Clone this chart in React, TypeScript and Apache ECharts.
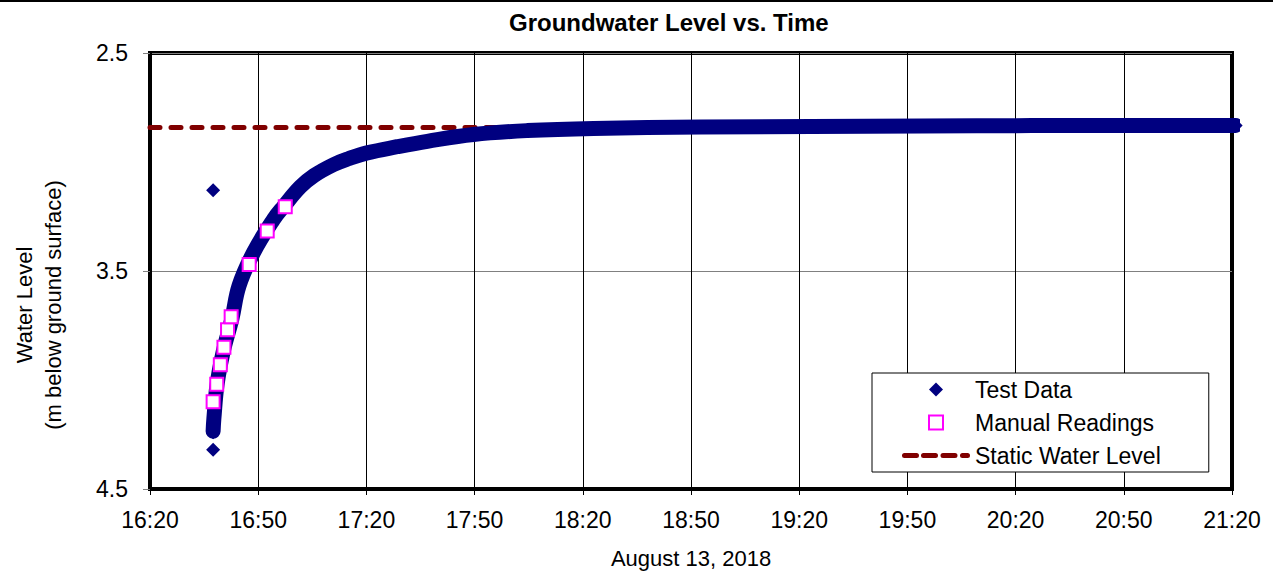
import React, { useEffect, useRef } from "react";
import * as echarts from "echarts";

// ---- data ----
const AXIS_START = "16:20:00";
const xTickLabels = ["16:20", "16:50", "17:20", "17:50", "18:20", "18:50", "19:20", "19:50", "20:20", "20:50", "21:20"];
const Y_MIN = 2.5;
const Y_MAX = 4.5;

// Test Data (dense logger record, traced along its centre)
const testTimes = [
  "16:37:30", "16:37:42", "16:38:36", "16:40:18", "16:42:42", "16:44:42", "16:48:42",
  "16:54:15", "16:57:00", "17:01:42", "17:05:30", "17:10:54", "17:15:00", "17:20:12", "17:28:30", "17:36:54",
  "17:49:42", "18:04:36", "18:23:00", "18:52:48", "19:53:54", "20:24:24", "20:55:00", "21:21:00",
];
const testLevels = [
  4.235, 4.18, 4.02, 3.87, 3.72, 3.567, 3.415,
  3.263, 3.205, 3.114, 3.062, 3.012, 2.985, 2.958, 2.930, 2.905,
  2.874, 2.856, 2.846, 2.840, 2.835, 2.833, 2.833, 2.832,
];
// Individual Test Data points standing apart from the band
const testPointTimes = ["16:37:30", "16:37:30", "16:37:30", "21:21:00"];
const testPointLevels = [4.32, 3.13, 4.24, 2.832];

// Manual Readings
const manualTimes = ["16:37:30", "16:38:30", "16:39:30", "16:40:30", "16:41:30", "16:42:30", "16:47:30", "16:52:30", "16:57:30"];
const manualLevels = [4.10, 4.02, 3.93, 3.85, 3.77, 3.71, 3.47, 3.316, 3.205];

// Static Water Level
const staticTimes = ["16:20:00", "21:20:00"];
const staticLevels = [2.842, 2.842];

const FONT = "'Liberation Sans', Arial, sans-serif";

function toMin(t: string): number {
  const [h, m, s] = t.split(":").map(Number);
  const [h0, m0, s0] = AXIS_START.split(":").map(Number);
  return h * 60 + m + (s || 0) / 60 - (h0 * 60 + m0 + (s0 || 0) / 60);
}
function pts(times: string[], levels: number[]) {
  return times.map((t, i) => [toMin(t), levels[i] - Y_MIN]);
}

const DIAMOND_ICON = "path://M7,0L14,7L7,14L0,7Z";
const SQUARE_ICON = "path://M0,0H14V14H0Z";
const DASH_ICON = "path://M2.5,0H14.5A2.5,2.5,0,0,1,14.5,5H2.5A2.5,2.5,0,0,1,2.5,0Z M21.5,0H33.5A2.5,2.5,0,0,1,33.5,5H21.5A2.5,2.5,0,0,1,21.5,0Z M41,0H53A2.5,2.5,0,0,1,53,5H41A2.5,2.5,0,0,1,41,0Z M60.5,0H65.5A2.5,2.5,0,0,1,65.5,5H60.5A2.5,2.5,0,0,1,60.5,0Z";

export default function App() {
  const ref = useRef<HTMLDivElement>(null);
  useEffect(() => {
    if (!ref.current) return;
    const chart = echarts.init(ref.current, undefined, { renderer: "svg" });
    const option: any = {
      animation: false,
      backgroundColor: "#fff",
      textStyle: { fontFamily: FONT },
      title: {
        text: "Groundwater Level vs. Time",
        left: 504,
        top: 5,
        textStyle: { fontSize: 24, fontWeight: "bold", color: "#000", fontFamily: FONT },
      },
      grid: {
        left: 150,
        right: 41,
        top: 53,
        bottom: 83,
        show: true,
        borderColor: "#000",
        borderWidth: 4,
        backgroundColor: "transparent",
      },
      legend: {
        orient: "vertical",
        left: 872,
        top: 373,
        itemWidth: 68,
        itemHeight: 14,
        itemGap: 10,
        padding: [5, 48, 5, 30],
        backgroundColor: "#fff",
        borderColor: "#000",
        borderWidth: 1,
        symbolKeepAspect: true,
        textStyle: { fontSize: 23, lineHeight: 22, color: "#000", fontFamily: FONT },
        data: [
          { name: "Test Data", icon: DIAMOND_ICON, itemStyle: { color: "#000080", borderWidth: 0, opacity: 1 } },
          { name: "Manual Readings", icon: SQUARE_ICON, itemStyle: { color: "#fff", borderColor: "#ff00ff", borderWidth: 2, opacity: 1 } },
          { name: "Static Water Level", icon: DASH_ICON, itemStyle: { color: "#800000", borderWidth: 0, opacity: 1 } },
        ],
      },
      xAxis: {
        type: "value",
        min: 0,
        max: 300,
        interval: 30,
        name: "August 13, 2018",
        nameLocation: "middle",
        nameGap: 58,
        nameTextStyle: { fontSize: 22, color: "#000", fontFamily: FONT },
        axisLine: { show: true, onZero: false, lineStyle: { color: "#000", width: 4 } },
        axisTick: { show: true, length: 6, lineStyle: { color: "#000" } },
        axisLabel: {
          fontSize: 23,
          color: "#000",
          margin: 19,
          fontFamily: FONT,
          formatter: (v: number) => xTickLabels[Math.round(v / 30)] ?? "",
        },
        splitLine: { show: true, lineStyle: { color: "#000", width: 1 } },
      },
      yAxis: {
        type: "value",
        inverse: true,
        min: 0,
        max: Y_MAX - Y_MIN,
        interval: 1,
        axisLine: { show: true, onZero: false, lineStyle: { color: "#000", width: 4 } },
        axisTick: { show: true, length: 7, lineStyle: { color: "#808080" } },
        axisLabel: {
          fontSize: 23,
          color: "#000",
          margin: 22,
          fontFamily: FONT,
          formatter: (v: number) => (v + Y_MIN).toFixed(1),
        },
        splitLine: { show: true, lineStyle: { color: "#808080", width: 1 } },
      },
      graphic: [
        { type: "line", shape: { x1: 0, y1: 1, x2: 1273, y2: 1 }, style: { stroke: "#000", lineWidth: 2 } },
        {
          type: "text",
          x: 24,
          y: 305,
          rotation: Math.PI / 2,
          style: { text: "Water Level", fontSize: 22, fill: "#000", fontFamily: FONT, align: "center", verticalAlign: "middle" },
        },
        {
          type: "text",
          x: 53,
          y: 305,
          rotation: Math.PI / 2,
          style: { text: "(m below ground surface)", fontSize: 22, fill: "#000", fontFamily: FONT, align: "center", verticalAlign: "middle" },
        },
      ],
      series: [
        {
          name: "Test Data",
          type: "scatter",
          data: pts(testPointTimes, testPointLevels),
          symbol: "diamond",
          symbolSize: 14,
          clip: false,
          itemStyle: { color: "#000080", opacity: 1 },
          z: 4,
        },
        {
          name: "Static Water Level",
          type: "line",
          data: pts(staticTimes, staticLevels),
          symbol: "none",
          lineStyle: { color: "#800000", width: 5, type: [10, 11], cap: "round" },
          itemStyle: { color: "#800000" },
          z: 2,
        },
        {
          name: "Test Data",
          type: "line",
          data: pts(testTimes, testLevels),
          symbol: "none",
          smooth: 0.4,
          clip: false,
          lineStyle: { color: "#000080", width: 15, join: "round", cap: "round" },
          itemStyle: { color: "#000080" },
          z: 3,
        },
        {
          name: "Manual Readings",
          type: "scatter",
          data: pts(manualTimes, manualLevels),
          symbol: "rect",
          symbolSize: 13,
          itemStyle: { color: "#fff", borderColor: "#ff00ff", borderWidth: 2, opacity: 1 },
          z: 5,
        },
      ],
    };
    chart.setOption(option);
    return () => chart.dispose();
  }, []);
  return <div ref={ref} style={{ position: "fixed", left: 0, top: 0, width: 1273, height: 574 }} />;
}
